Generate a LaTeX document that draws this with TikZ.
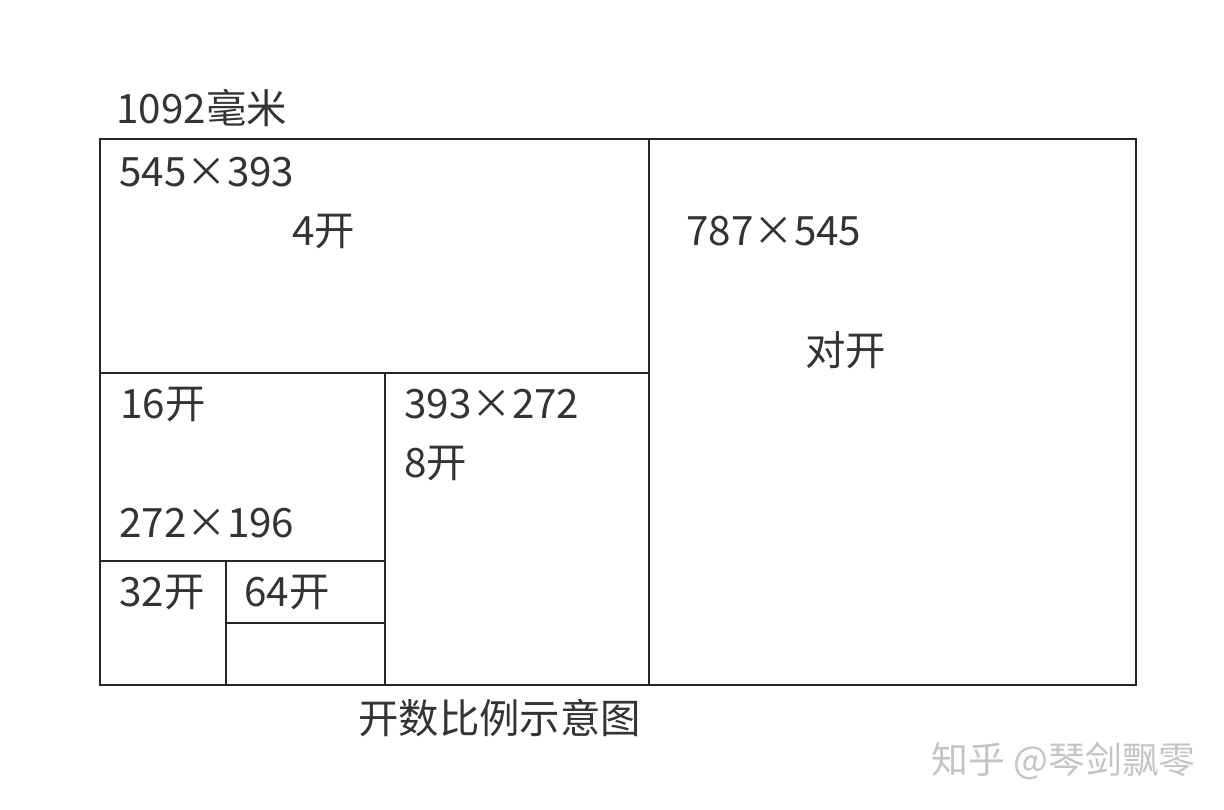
\documentclass[tikz,border=0pt]{standalone}
\usepackage{fontspec}
\setmainfont{Noto Sans CJK SC}
\usetikzlibrary{positioning}
\definecolor{inkgray}{HTML}{333333}
\definecolor{markgray}{HTML}{C4C4C4}
\tikzset{
  sheet/.style = {draw=black!85, line width=1.1pt},
  lbl/.style = {anchor=west, inner sep=0pt, text=inkgray,
                font=\fontsize{23}{26}\selectfont},
  wmark/.style = {anchor=west, inner sep=0pt, text=markgray,
                  font=\fontsize{21}{24}\selectfont}
}

\begin{document}
\begin{tikzpicture}[x=0.02cm, y=-0.02cm]
	\useasboundingbox (0,0) rectangle (1224,809);
	
	% Corners
	\coordinate (tl) at (100,139);
	\coordinate (br) at (1136,685);
	\coordinate (mt) at (649,139);
	\coordinate (mb) at (649,685);
	
	% Sheet and cuts
	\draw[sheet] (tl) rectangle (br);
	\draw[sheet] (mt) -- (mb);                       % half
	\draw[sheet] (100,373) -- (649,373);             % 4
	\draw[sheet] (385,373) -- (385,685);             % 8
	\draw[sheet] (100,561) -- (385,561);             % 16
	\draw[sheet] (226,561) -- (226,685);             % 32
	\draw[sheet] (226,623) -- (385,623);             % 64
	
	% Labels
	\node[lbl] (width)  at (116,108) {1092毫米};
	\node[lbl] (s4)     at (119,172) {545×393};
	\node[lbl] (k4)     at (292,232) {4开};
	\node[lbl] (s2)     at (686,231) {787×545};
	\node[lbl] (k2)     at (805,350) {对开};
	\node[lbl] (k16)    at (120,405) {16开};
	\node[lbl] (s8)     at (404,404) {393×272};
	\node[lbl] (k8)     at (404,464) {8开};
	\node[lbl] (s16)    at (119,523) {272×196};
	\node[lbl] (k32)    at (119,593) {32开};
	\node[lbl] (k64)    at (244,593) {64开};
	\node[lbl] (title)  at (358,718) {开数比例示意图};
	\node[wmark] (mark) at (931,761) {知乎 @琴剑飘零};
	
\end{tikzpicture}
\end{document}
